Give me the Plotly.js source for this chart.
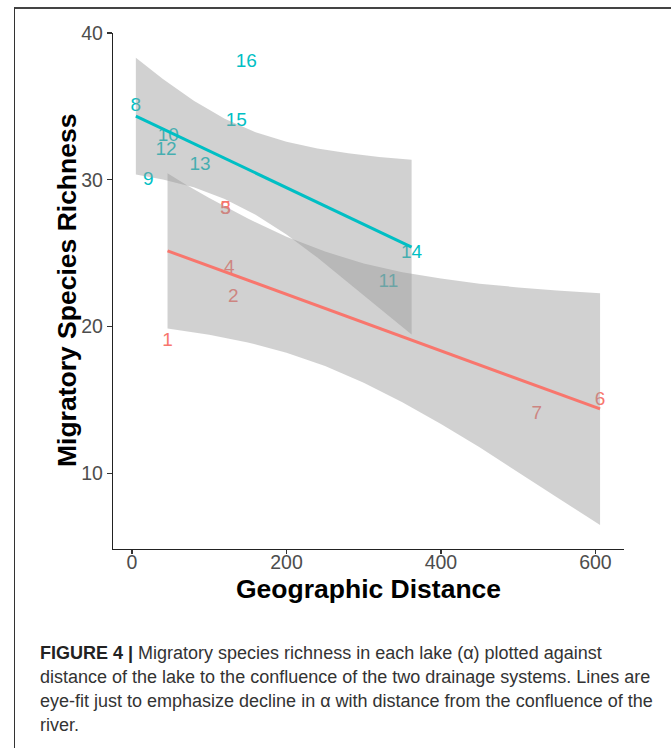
<!DOCTYPE html>
<html>
<head>
<meta charset="utf-8">
<script src="https://cdn.plot.ly/plotly-3.0.1.min.js"></script>
<style>
  html, body { margin: 0; padding: 0; background: #ffffff; }
  body { width: 671px; height: 748px; position: relative; overflow: hidden; }
  #frame { position: absolute; left: 14px; top: 7px; width: 720px; height: 800px;
           border-left: 1px solid #333; border-top: 2px solid #444; }
  #chart { position: absolute; left: 0; top: 0; width: 671px; height: 748px; }
  #caption { position: absolute; left: 40px; top: 641px; font-family: "Liberation Sans", Arial, sans-serif;
             font-size: 18px; line-height: 24px; color: #333; white-space: nowrap; }
  #caption b { color: #222; }
</style>
</head>
<body>
<div id="frame"></div>
<div id="chart"></div>
<div id="caption"><b>FIGURE 4 |</b> Migratory species richness in each lake (α) plotted against<br>distance of the lake to the confluence of the two drainage systems. Lines are<br>eye-fit just to emphasize decline in α with distance from the confluence of the<br>river.</div>
<script>
// Tick values
const xTicks = [0, 200, 400, 600];
const yTicks = [10, 20, 30, 40];

// Axis titles
const xTitle = 'Geographic Distance';
const yTitle = 'Migratory Species Richness';

// Group 1 (red) lakes
const redLabels = ['1', '2', '3', '4', '5', '6', '7'];
const redX = [46, 131, 121, 126, 121, 606, 524];
const redY = [19, 22, 28, 24, 28, 15, 14];

// Group 2 (teal) lakes
const tealLabels = ['8', '9', '10', '11', '12', '13', '14', '15', '16'];
const tealX = [5, 21, 47, 332, 44, 88, 362, 135, 148];
const tealY = [35, 30, 33, 23, 32, 31, 25, 34, 38];

// Fitted lines (end points)
const redLineX = [46, 606];
const redLineY = [25.16, 14.39];
const tealLineX = [5, 362];
const tealLineY = [34.34, 25.41];

// Confidence ribbons (edges)
const redBandX = [46, 70, 100, 150, 200, 250, 300, 350, 400, 450, 500, 550, 606];
const redBandUpper = [30.45, 29.67, 28.76, 27.36, 26.12, 25.11, 24.30, 23.71, 23.27, 22.92, 22.67, 22.46, 22.28];
const redBandLower = [19.87, 19.69, 19.44, 18.92, 18.22, 17.31, 16.18, 14.85, 13.37, 11.78, 10.11, 8.38, 6.48];

const tealBandX = [5, 40, 80, 120, 160, 200, 240, 280, 320, 362];
const tealBandUpper = [38.32, 36.86, 35.39, 34.16, 33.24, 32.59, 32.14, 31.81, 31.56, 31.36];
const tealBandLower = [30.36, 30.02, 29.49, 28.70, 27.62, 26.27, 24.70, 23.03, 21.26, 19.46];

const RED = '#F8766D';
const TEAL = '#00BFC4';
const BAND = 'rgba(153,153,153,0.45)';
const FONT = '"Liberation Sans", Arial, Helvetica, sans-serif';

function band(x, up, lo) {
  return {
    x: x.concat(x.slice().reverse()),
    y: up.concat(lo.slice().reverse()),
    type: 'scatter', mode: 'lines', fill: 'toself', fillcolor: BAND,
    line: { width: 0, color: 'rgba(0,0,0,0)' }, hoverinfo: 'skip', showlegend: false
  };
}

const traces = [
  { x: redX, y: redY, text: redLabels, type: 'scatter', mode: 'text', textposition: 'middle center',
    textfont: { family: FONT, size: 19, color: RED }, showlegend: false },
  { x: tealX, y: tealY, text: tealLabels, type: 'scatter', mode: 'text', textposition: 'middle center',
    textfont: { family: FONT, size: 19, color: TEAL }, showlegend: false },
  band(redBandX, redBandUpper, redBandLower),
  band(tealBandX, tealBandUpper, tealBandLower),
  { x: redLineX, y: redLineY, type: 'scatter', mode: 'lines', line: { color: RED, width: 3 }, showlegend: false },
  { x: tealLineX, y: tealLineY, type: 'scatter', mode: 'lines', line: { color: TEAL, width: 3 }, showlegend: false }
];

const layout = {
  width: 671, height: 748,
  margin: { l: 113, r: 47, t: 33, b: 199, pad: 0 },
  paper_bgcolor: 'rgba(0,0,0,0)', plot_bgcolor: 'rgba(0,0,0,0)',
  showlegend: false,
  font: { family: FONT },
  xaxis: {
    range: [-24.6, 637], tickvals: xTicks, ticktext: xTicks.map(String),
    showgrid: false, zeroline: false, showline: true, linecolor: '#222', linewidth: 1.2,
    ticks: 'outside', ticklen: 4, tickwidth: 1.2, tickcolor: '#333',
    ticklabelstandoff: -9,
    tickfont: { family: FONT, size: 19.5, color: '#4D4D4D' }
  },
  yaxis: {
    range: [4.85, 40.0], tickvals: yTicks, ticktext: yTicks.map(String),
    showgrid: false, zeroline: false, showline: true, linecolor: '#222', linewidth: 1.2,
    ticks: 'outside', ticklen: 5, tickwidth: 1.2, tickcolor: '#333',
    tickfont: { family: FONT, size: 19.5, color: '#4D4D4D' }
  },
  annotations: [
    { text: '<b>' + xTitle + '</b>', xref: 'paper', yref: 'paper', x: 0.5, y: -0.078,
      xanchor: 'center', yanchor: 'middle', showarrow: false,
      font: { family: FONT, size: 26.5, color: '#000' } },
    { text: '<b>' + yTitle + '</b>', xref: 'paper', yref: 'paper', x: -0.090, y: 0.5,
      xanchor: 'center', yanchor: 'middle', textangle: -90, showarrow: false,
      font: { family: FONT, size: 26.5, color: '#000' } }
  ]
};

Plotly.newPlot('chart', traces, layout, { displayModeBar: false, staticPlot: true });
</script>
</body>
</html>
